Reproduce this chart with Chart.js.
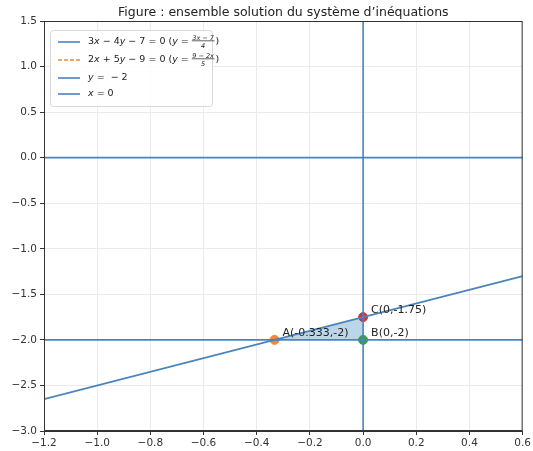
<!DOCTYPE html>
<html lang="fr">
<head>
<meta charset="UTF-8">
<title>Système d'inéquations</title>
<script src="https://cdn.jsdelivr.net/npm/chart.js"></script>
<style>
  html, body { margin: 0; padding: 0; background: #fff; }
  #wrap { width: 533px; height: 451px; }
</style>
</head>
<body>
<div id="wrap"><canvas id="graph"></canvas></div>
<script>
const line1X = [-1.2, 0.6];
const line1Y = [-2.65, -1.3];     // 3x - 4y - 7 = 0
const line2X = [-1.2, 0.6];
const line2Y = [2.28, 1.56];      // 2x + 5y - 9 = 0 (hors fenêtre)
const hLineX = [-1.2, 0.6];
const hLineY = [-2, -2];          // y = -2
const vLineX = [0, 0];
const vLineY = [-3, 1.5];         // x = 0
const axisX = [-1.2, 0.6];
const axisY = [0, 0];             // axe horizontal y = 0

// sommets de la région solution
const pointNames = ['A', 'B', 'C'];
const pointX = [-0.333, 0, 0];
const pointY = [-2, -2, -1.75];
const pointLabels = ['A(-0.333,-2)', 'B(0,-2)', 'C(0,-1.75)'];

const xTicks = [-1.2, 0.6, 0.2];  // min, max, pas
const yTicks = [-3.0, 1.5, 0.5];

const BLUE = '#4a84bd';
const ORANGE = '#f0883a';
const GREEN = '#3d9a45';
const RED = '#c8383c';
const pointColors = [ORANGE, GREEN, RED];

function xy(xs, ys) { return xs.map((x, i) => ({ x: x, y: ys[i] })); }
function fmt(v) {
  const s = (Math.round(v * 10) / 10).toFixed(1);
  return s.replace('-', '\u2212');
}

// région triangulaire A, C, B
const fillRegion = {
  id: 'fillRegion',
  beforeDatasetsDraw(chart) {
    const { ctx, scales: { x, y }, chartArea } = chart;
    const order = [0, 2, 1];
    ctx.save();
    ctx.beginPath();
    ctx.rect(chartArea.left, chartArea.top, chartArea.width, chartArea.height);
    ctx.clip();
    ctx.beginPath();
    order.forEach((k, i) => {
      const px = x.getPixelForValue(pointX[k]);
      const py = y.getPixelForValue(pointY[k]);
      if (i === 0) ctx.moveTo(px, py); else ctx.lineTo(px, py);
    });
    ctx.closePath();
    ctx.fillStyle = 'rgba(31,119,180,0.3)';
    ctx.fill();
    ctx.restore();
  }
};

// cadre, titre, étiquettes des points, légende
function drawRich(ctx, parts, x, y, size) {
  parts.forEach(p => {
    if (p.frac) {
      const fs = 6.5;
      ctx.font = 'italic ' + fs + 'px "DejaVu Sans"';
      const wn = ctx.measureText(p.num).width;
      const wd = ctx.measureText(p.den).width;
      const w = Math.max(wn, wd) + 1;
      ctx.textBaseline = 'alphabetic';
      ctx.fillText(p.num, x + (w - wn) / 2, y - 2.5);
      ctx.fillText(p.den, x + (w - wd) / 2, y + 6);
      ctx.fillRect(x, y - 1.5, w, 0.7);
      x += w + 1;
      return;
    }
    ctx.font = (p.i ? 'italic ' : '') + size + 'px "DejaVu Sans"';
    ctx.textBaseline = 'middle';
    ctx.fillText(p.t, x, y);
    x += ctx.measureText(p.t).width;
  });
}

const decor = {
  id: 'decor',
  afterDraw(chart) {
    const { ctx, chartArea: a, scales: { x, y } } = chart;
    ctx.save();
    ctx.strokeStyle = '#333';
    ctx.lineWidth = 1;
    ctx.strokeRect(a.left + 0.5, a.top + 0.5, a.width - 1, a.height - 1);

    ctx.fillStyle = '#222';
    ctx.font = '12.5px "DejaVu Sans"';
    ctx.textAlign = 'center';
    ctx.textBaseline = 'middle';
    ctx.fillText('Figure : ensemble solution du syst\u00e8me d\u2019in\u00e9quations', (a.left + a.right) / 2, 13);

    ctx.textAlign = 'left';
    ctx.font = '11px "DejaVu Sans"';
    pointLabels.forEach((t, i) => {
      ctx.fillText(t, x.getPixelForValue(pointX[i]) + 8, y.getPixelForValue(pointY[i]) - 7);
    });

    // légende
    const lx = a.left + 6, ly = a.top + 9, lw = 162, lh = 76;
    ctx.fillStyle = 'rgba(255,255,255,0.85)';
    ctx.strokeStyle = '#d8d8d8';
    ctx.beginPath();
    ctx.roundRect(lx + 0.5, ly + 0.5, lw, lh, 3);
    ctx.fill();
    ctx.stroke();

    const m = '\u2212';
    const rows = [
      { c: BLUE, dash: [], parts: [{ t: '3' }, { t: 'x', i: 1 }, { t: ' ' + m + ' 4' }, { t: 'y', i: 1 }, { t: ' ' + m + ' 7 = 0 (' }, { t: 'y', i: 1 }, { t: ' = ' }, { frac: 1, num: '3x ' + m + ' 7', den: '4' }, { t: ')' }] },
      { c: ORANGE, dash: [4, 2], parts: [{ t: '2' }, { t: 'x', i: 1 }, { t: ' + 5' }, { t: 'y', i: 1 }, { t: ' ' + m + ' 9 = 0 (' }, { t: 'y', i: 1 }, { t: ' = ' }, { frac: 1, num: '9 ' + m + ' 2x', den: '5' }, { t: ')' }] },
      { c: BLUE, dash: [], parts: [{ t: 'y', i: 1 }, { t: ' =  ' + m + ' 2' }] },
      { c: BLUE, dash: [], parts: [{ t: 'x', i: 1 }, { t: ' = 0' }] }
    ];
    const rowY = [42, 60, 78, 94];
    rows.forEach((r, i) => {
      ctx.strokeStyle = r.c;
      ctx.lineWidth = 1.6;
      ctx.setLineDash(r.dash);
      ctx.beginPath();
      ctx.moveTo(lx + 8, rowY[i]);
      ctx.lineTo(lx + 30, rowY[i]);
      ctx.stroke();
      ctx.setLineDash([]);
      ctx.fillStyle = '#222';
      drawRich(ctx, r.parts, lx + 38, rowY[i], 9.5);
    });
    ctx.restore();
  }
};

const lineDs = (data, color, extra) => Object.assign({
  data: data, showLine: true, borderColor: color, borderWidth: 1.6,
  pointRadius: 0, fill: false
}, extra || {});

new Chart(document.getElementById('graph'), {
  type: 'scatter',
  data: {
    datasets: [
      lineDs(xy(axisX, axisY), BLUE),
      lineDs(xy(line1X, line1Y), BLUE),
      lineDs(xy(line2X, line2Y), ORANGE, { borderDash: [5, 3] }),
      lineDs(xy(hLineX, hLineY), BLUE),
      lineDs(xy(vLineX, vLineY), BLUE),
      {
        data: xy(pointX, pointY),
        pointRadius: 4.5,
        pointBackgroundColor: pointColors,
        pointBorderColor: pointColors,
        showLine: false
      }
    ]
  },
  options: {
    responsive: true,
    maintainAspectRatio: false,
    animation: false,
    layout: { padding: { top: 21, right: 10, left: 0, bottom: 0 } },
    plugins: { legend: { display: false }, tooltip: { enabled: false } },
    scales: {
      x: {
        type: 'linear', min: xTicks[0], max: xTicks[1],
        ticks: { stepSize: xTicks[2], callback: v => fmt(v), color: '#333', font: { family: 'DejaVu Sans', size: 10.5 }, padding: 2, maxRotation: 0 },
        grid: { color: '#ebebeb', tickColor: '#333', tickLength: 4 },
        border: { color: '#333' },
        afterFit(s) { s.height = 20; }
      },
      y: {
        type: 'linear', min: yTicks[0], max: yTicks[1],
        ticks: { stepSize: yTicks[2], callback: v => fmt(v), color: '#333', font: { family: 'DejaVu Sans', size: 10.5 }, padding: 3 },
        grid: { color: '#ebebeb', tickColor: '#333', tickLength: 4 },
        border: { color: '#333' },
        afterFit(s) { s.width = 44; }
      }
    }
  },
  plugins: [fillRegion, decor]
});
</script>
</body>
</html>
